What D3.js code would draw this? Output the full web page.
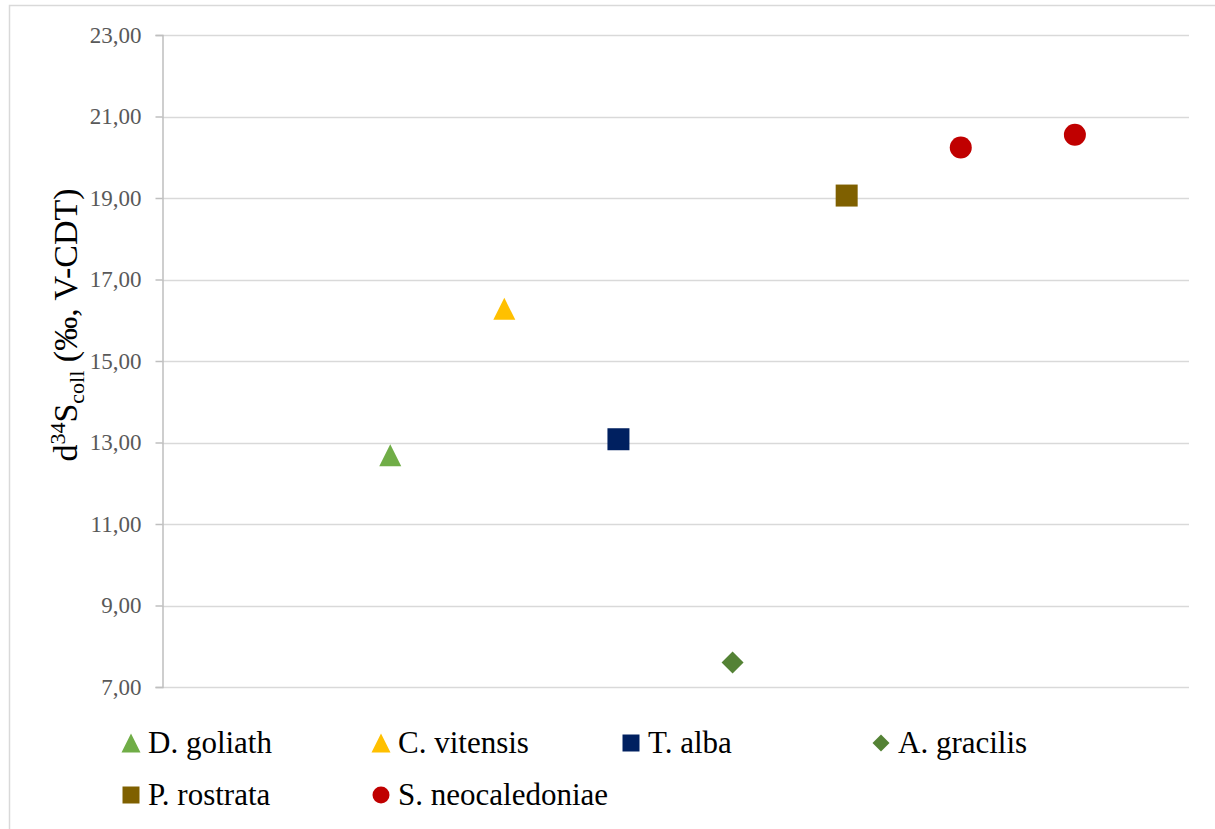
<!DOCTYPE html>
<html>
<head>
<meta charset="utf-8">
<script src="https://cdn.jsdelivr.net/npm/d3@7"></script>
<style>
  html, body { margin: 0; padding: 0; background: #fff; }
  svg { display: block; }
</style>
</head>
<body>
<script>
// ---- data ----
const speciesNames = ["D. goliath", "C. vitensis", "T. alba", "A. gracilis", "P. rostrata", "S. neocaledoniae"];
const speciesColors = ["#70AD47", "#FFC000", "#002060", "#548235", "#7F6000", "#C00000"];
const speciesShapes = ["triangle", "triangle", "square", "diamond", "square", "circle"];
const xPositions = [[2], [3], [4], [5], [6], [7, 8]];
const d34S = [[12.69], [16.28], [13.08], [7.60], [19.06], [20.24, 20.55]];
const yTicks = [7, 9, 11, 13, 15, 17, 19, 21, 23];
const xDomain = [0, 9];
const yDomain = [7, 23];

// ---- layout ----
const W = 1215, H = 829;
const plot = { left: 162, right: 1189, top: 35, bottom: 687 };
const SERIF = '"Liberation Serif", "DejaVu Serif", serif';

const svg = d3.select("body").append("svg").attr("width", W).attr("height", H)
  .attr("font-family", SERIF);

// chart border
svg.append("rect").attr("x", 9.5).attr("y", 5.5).attr("width", W + 10).attr("height", H + 10)
  .attr("fill", "none").attr("stroke", "#d9d9d9").attr("stroke-width", 1.5);

const x = d3.scaleLinear().domain(xDomain).range([plot.left, plot.right]);
const y = d3.scaleLinear().domain(yDomain).range([plot.bottom, plot.top]);

// gridlines
svg.append("g").selectAll("line").data(yTicks).join("line")
  .attr("x1", plot.left).attr("x2", plot.right)
  .attr("y1", d => Math.round(y(d)) + 0.5).attr("y2", d => Math.round(y(d)) + 0.5)
  .attr("stroke", "#d9d9d9").attr("stroke-width", 1.5);

// y axis
const fmt = d => d3.format(".2f")(d).replace(".", ",");
const yAxis = d3.axisLeft(y).tickValues(yTicks).tickFormat(fmt).tickSize(7).tickPadding(14);
const gy = svg.append("g").attr("transform", `translate(${plot.left + 0.5},0)`).call(yAxis)
  .attr("font-family", SERIF);
gy.select(".domain").attr("stroke", "#bfbfbf").attr("stroke-width", 1.5);
gy.selectAll(".tick line").attr("stroke", "#bfbfbf").attr("stroke-width", 1.5);
gy.selectAll(".tick text").attr("fill", "#595959")
  .style("font-size", "23px").style("font-family", SERIF);

// y axis title
const title = svg.append("text")
  .attr("transform", `translate(77,325) rotate(-90)`)
  .attr("text-anchor", "middle").attr("fill", "#000")
  .style("font-size", "34px").style("font-family", SERIF);
title.append("tspan").text("d");
title.append("tspan").text("34").attr("dy", -12).style("font-size", "22px");
title.append("tspan").text("S").attr("dy", 12);
title.append("tspan").text("coll").attr("dy", 7).style("font-size", "22px");
title.append("tspan").text(" (‰, V-CDT)").attr("dy", -7);

// marker shape
function shapePath(shape, s) {
  const h = s / 2;
  if (shape === "triangle") return `M0,${-h}L${h},${h}L${-h},${h}Z`;
  if (shape === "square") return `M${-h},${-h}H${h}V${h}H${-h}Z`;
  if (shape === "diamond") return `M0,${-h}L${h},0L0,${h}L${-h},0Z`;
  return d3.symbol(d3.symbolCircle, Math.PI * h * h)();
}

// points
const pts = [];
speciesNames.forEach((name, i) => {
  xPositions[i].forEach((xv, j) => pts.push({ name, i, xv, yv: d34S[i][j] }));
});
svg.append("g").selectAll("path").data(pts).join("path")
  .attr("transform", d => `translate(${x(d.xv)},${y(d.yv)})`)
  .attr("d", d => shapePath(speciesShapes[d.i], 22))
  .attr("fill", d => speciesColors[d.i]);

// legend
const legendCols = 4, colW = 250, legX0 = 131, legY0 = 743, rowH = 52;
const leg = svg.append("g").selectAll("g").data(speciesNames).join("g")
  .attr("transform", (d, i) => `translate(${legX0 + (i % legendCols) * colW},${legY0 + Math.floor(i / legendCols) * rowH})`);
leg.append("path")
  .attr("d", (d, i) => shapePath(speciesShapes[i], speciesShapes[i] === "triangle" ? 19 : 17))
  .attr("fill", (d, i) => speciesColors[i]);
leg.append("text").attr("x", 17).attr("y", 10).text(d => d)
  .attr("fill", "#000").style("font-size", "31px").style("font-family", SERIF);
</script>
</body>
</html>
